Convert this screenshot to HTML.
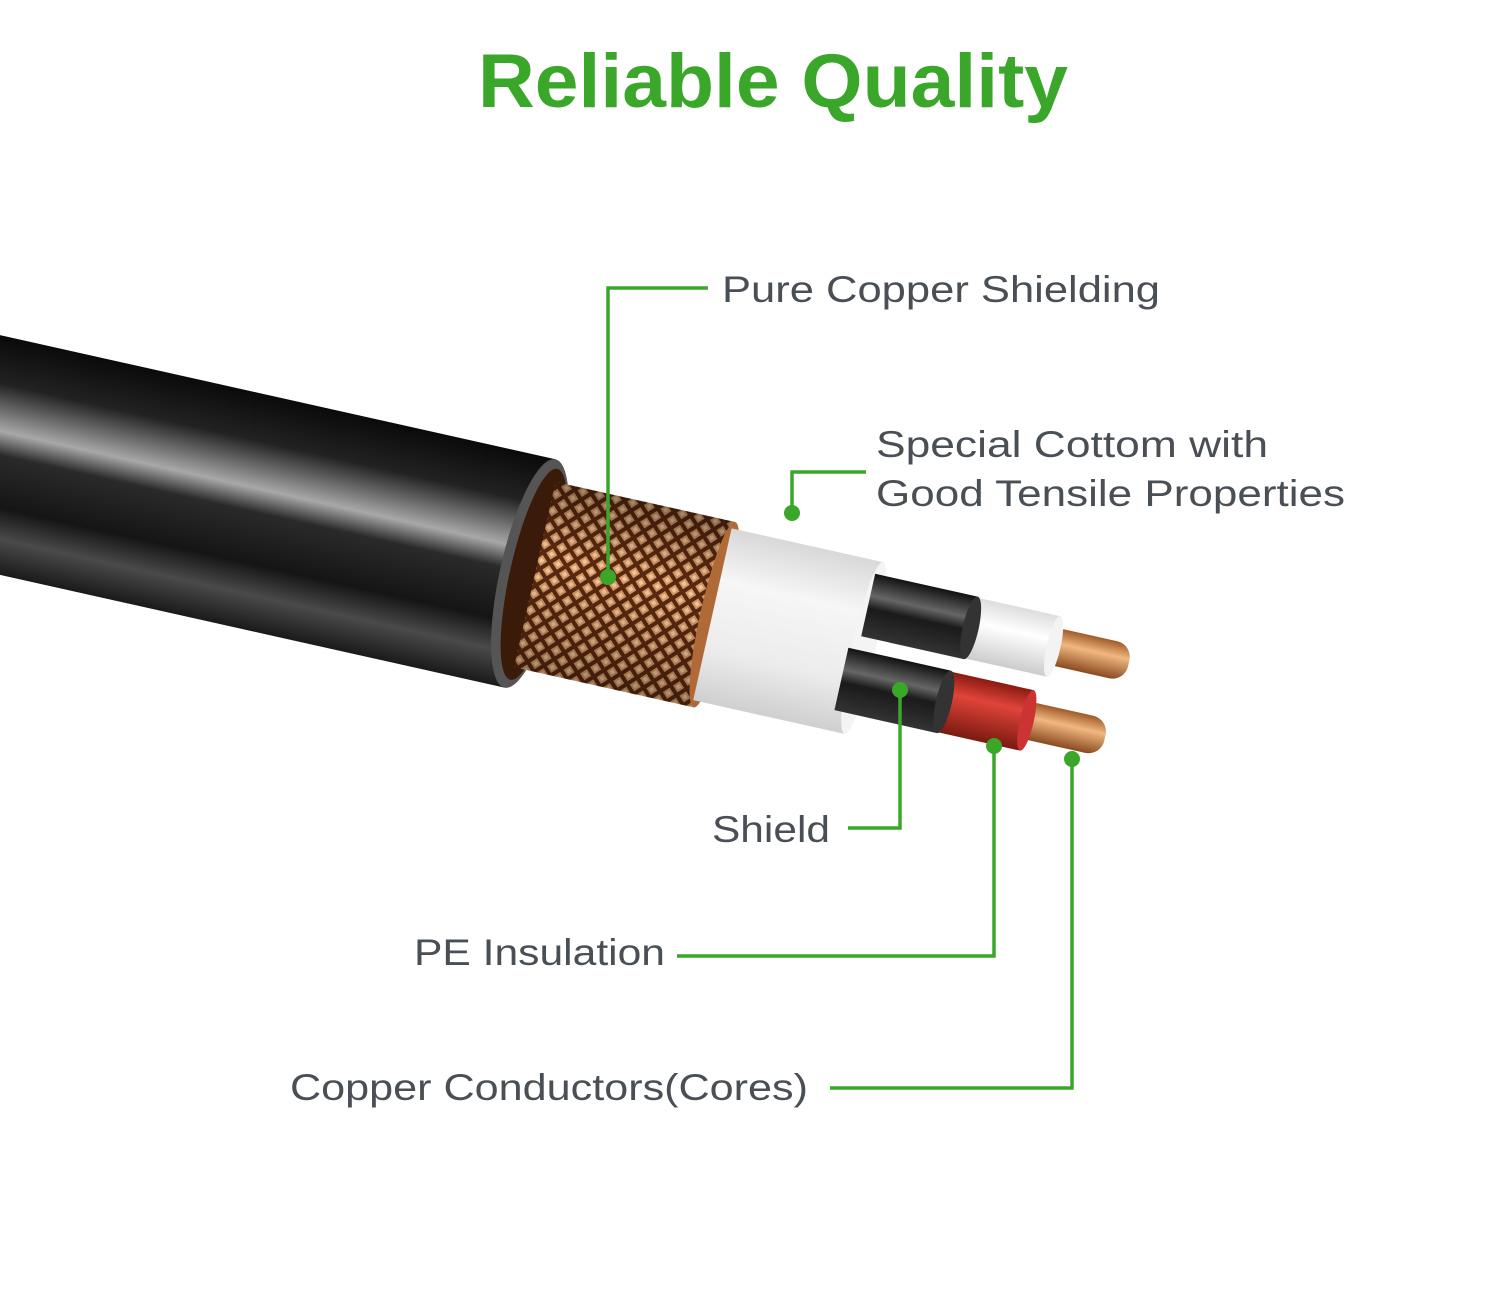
<!DOCTYPE html>
<html><head><meta charset="utf-8"><style>html,body{margin:0;padding:0;background:#fff}svg{display:block}</style></head>
<body>
<svg width="1500" height="1307" viewBox="0 0 1500 1307" xmlns="http://www.w3.org/2000/svg">
<defs>
<linearGradient id="jk" x1="0" y1="338" x2="0" y2="572" gradientUnits="userSpaceOnUse">
<stop offset="0" stop-color="#0a0a0a"/><stop offset="0.2" stop-color="#222"/><stop offset="0.4" stop-color="#a8a8a8"/><stop offset="0.5" stop-color="#2a2a2a"/><stop offset="0.72" stop-color="#151515"/><stop offset="0.85" stop-color="#4a4a4a"/><stop offset="1" stop-color="#1a1a1a"/>
</linearGradient>
<pattern id="br" width="12" height="12" patternUnits="userSpaceOnUse" patternTransform="rotate(45)">
<rect width="12" height="12" fill="#5a2a10"/><rect x="1" y="1" width="8" height="8" fill="#d99a66"/><rect x="3" y="3" width="4" height="4" fill="#f2c9a0"/>
</pattern>
<linearGradient id="bs" x1="0" y1="360" x2="0" y2="550" gradientUnits="userSpaceOnUse">
<stop offset="0" stop-color="#000" stop-opacity=".35"/><stop offset="0.4" stop-color="#000" stop-opacity="0"/><stop offset="1" stop-color="#000" stop-opacity=".3"/></linearGradient>
<linearGradient id="ct" x1="0" y1="367" x2="0" y2="543" gradientUnits="userSpaceOnUse">
<stop offset="0" stop-color="#d8d8d8"/><stop offset="0.3" stop-color="#f6f6f6"/><stop offset="0.7" stop-color="#ececec"/><stop offset="1" stop-color="#cfcfcf"/></linearGradient>
<linearGradient id="bk" x1="0" y1="0" x2="0" y2="1">
<stop offset="0" stop-color="#111"/><stop offset="0.35" stop-color="#666"/><stop offset="0.55" stop-color="#1a1a1a"/><stop offset="1" stop-color="#333"/></linearGradient>
<linearGradient id="wh" x1="0" y1="0" x2="0" y2="1">
<stop offset="0" stop-color="#ddd"/><stop offset="0.4" stop-color="#fff"/><stop offset="1" stop-color="#ccc"/></linearGradient>
<linearGradient id="rd" x1="0" y1="0" x2="0" y2="1">
<stop offset="0" stop-color="#8a1a10"/><stop offset="0.35" stop-color="#e0443a"/><stop offset="1" stop-color="#7a1a10"/></linearGradient>
<linearGradient id="cu" x1="0" y1="0" x2="0" y2="1">
<stop offset="0" stop-color="#a05a2a"/><stop offset="0.4" stop-color="#f0b880"/><stop offset="1" stop-color="#8a4a20"/></linearGradient>
</defs>
<text x="478" y="107" font-family="Liberation Sans, sans-serif" font-weight="bold" font-size="76" fill="#3aa62a" textLength="590" lengthAdjust="spacingAndGlyphs">Reliable Quality</text>

<g transform="rotate(12.6 0 455)">
  <rect x="-60" y="338" width="603" height="234" fill="url(#jk)"/>
  <ellipse cx="543" cy="455" rx="30" ry="117" fill="#555"/>
  <ellipse cx="547" cy="455" rx="24" ry="108" fill="#3a1a08"/>
  <rect x="548" y="360" width="184" height="190" fill="url(#br)"/>
  <rect x="548" y="360" width="184" height="190" fill="url(#bs)"/>
  <ellipse cx="732" cy="455" rx="14" ry="95" fill="#b06a38"/>
  <rect x="730" y="367" width="155" height="176" fill="url(#ct)"/>
  <ellipse cx="885" cy="455" rx="12" ry="88" fill="#f4f4f4"/>
  <rect x="1060" y="393" width="87" height="38" fill="url(#cu)" rx="16"/>
  <rect x="980" y="381" width="90" height="62" fill="url(#wh)"/>
  <ellipse cx="1070" cy="412" rx="7" ry="31" fill="#f3f3f3"/>
  <rect x="880" y="380" width="105" height="64" fill="url(#bk)"/>
  <ellipse cx="985" cy="412" rx="8" ry="32" fill="#333"/>
  <rect x="1050" y="471" width="90" height="38" fill="url(#cu)" rx="16"/>
  <rect x="970" y="459" width="90" height="62" fill="url(#rd)"/>
  <ellipse cx="1060" cy="490" rx="7" ry="31" fill="#c33"/>
  <rect x="870" y="458" width="105" height="64" fill="url(#bk)"/>
  <ellipse cx="975" cy="490" rx="8" ry="32" fill="#333"/>
</g>

<g stroke="#3aa62a" stroke-width="3.5" fill="none">
<polyline points="608,577 608,288 708,288"/>
<polyline points="792,513 792,472 866,472"/>
<polyline points="900,690 900,828 848,828"/>
<polyline points="994,746 994,956 677,956"/>
<polyline points="1072,759 1072,1088 830,1088"/>
</g>
<g fill="#3aa62a">
<circle cx="608" cy="577" r="8"/><circle cx="792" cy="513" r="8"/><circle cx="900" cy="690" r="8"/><circle cx="994" cy="746" r="8"/><circle cx="1072" cy="759" r="8"/>
</g>
<g font-family="Liberation Sans, sans-serif" font-size="37" fill="#4a4f55">
<text x="722" y="302" textLength="438" lengthAdjust="spacingAndGlyphs">Pure Copper Shielding</text>
<text x="876" y="457" textLength="392" lengthAdjust="spacingAndGlyphs">Special Cottom with</text>
<text x="876" y="506" textLength="469" lengthAdjust="spacingAndGlyphs">Good Tensile Properties</text>
<text x="712" y="842" textLength="118" lengthAdjust="spacingAndGlyphs">Shield</text>
<text x="414" y="965" textLength="251" lengthAdjust="spacingAndGlyphs">PE Insulation</text>
<text x="290" y="1100" textLength="518" lengthAdjust="spacingAndGlyphs">Copper Conductors(Cores)</text>
</g>
</svg>
</body></html>
